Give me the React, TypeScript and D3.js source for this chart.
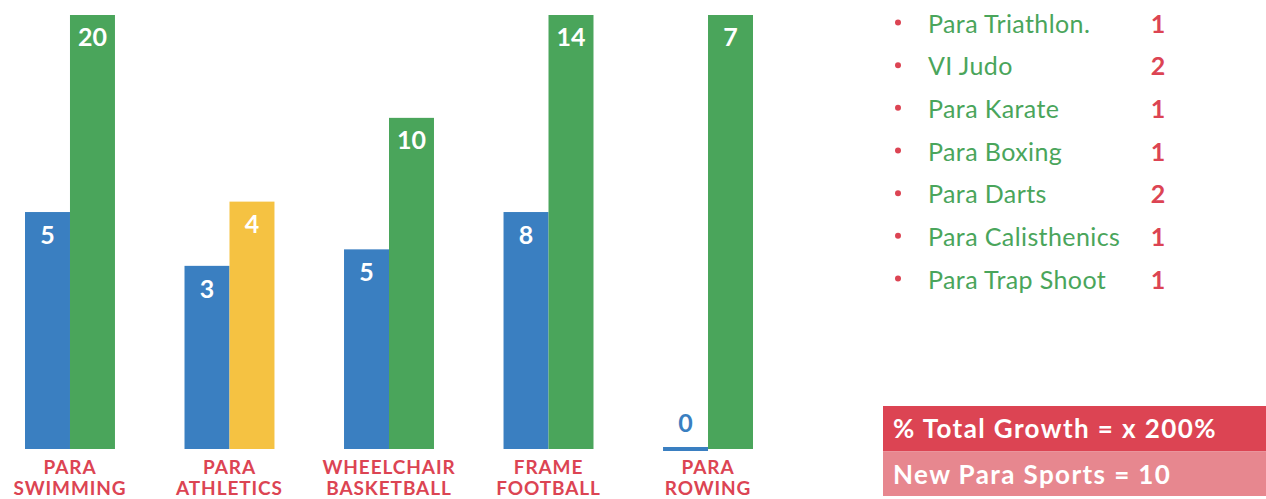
import React from "react";
import * as d3 from "d3";

// ---- data ----
const categories: string[][] = [
  ["PARA", "SWIMMING"],
  ["PARA", "ATHLETICS"],
  ["WHEELCHAIR", "BASKETBALL"],
  ["FRAME", "FOOTBALL"],
  ["PARA", "ROWING"],
];
const beforeValues = [5, 3, 5, 8, 0];
const afterValues = [20, 4, 10, 14, 7];
// bar heights as drawn on the slide (0–100 display units, not proportional to the labels)
const beforeHeights = [54.6, 42.2, 46, 54.6, 0];
const afterHeights = [100, 57, 76.3, 100, 100];

const newSports = [
  "Para Triathlon.",
  "VI Judo",
  "Para Karate",
  "Para Boxing",
  "Para Darts",
  "Para Calisthenics",
  "Para Trap Shoot",
];
const newSportCounts = [1, 2, 1, 1, 2, 1, 1];
const summaryLines = ["% Total Growth = x 200%", "New Para Sports = 10"];

// ---- styles ----
const W = 1266;
const H = 499;
const BLUE = "#3a7fc1";
const GREEN = "#4aa55b";
const YELLOW = "#f5c242";
const RED = "#dc4453";
const PINK = "#e7878f";
const FONT = "Lato, 'Open Sans', sans-serif";

export default function App() {
  const x = d3
    .scaleBand<number>()
    .domain(d3.range(categories.length))
    .range([25, 753])
    .paddingInner(0.436)
    .paddingOuter(0);
  const bw = x.bandwidth() / 2;
  const y = d3.scaleLinear().domain([0, 100]).range([449, 15]);

  const listY = d3
    .scaleLinear()
    .domain([0, newSports.length - 1])
    .range([32.5, 288.5]);

  return (
    <svg
      width={W}
      height={H}
      style={{ position: "absolute", left: 0, top: 0, display: "block" }}
      fontFamily={FONT}
    >
      <rect width={W} height={H} fill="#fff" />
      {categories.map((cat, i) => {
        const x0 = x(i)!;
        const cx = x0 + bw;
        const bTop = y(beforeHeights[i]);
        const aTop = y(afterHeights[i]);
        const zeroBefore = beforeValues[i] === 0;
        const afterColor = i === 1 ? YELLOW : GREEN;
        return (
          <g key={i}>
            {zeroBefore ? (
              <rect x={x0} y={y(0) - 2} width={bw} height={4} fill={BLUE} />
            ) : (
              <rect x={x0} y={bTop} width={bw} height={y(0) - bTop} fill={BLUE} />
            )}
            <rect x={x0 + bw} y={aTop} width={bw} height={y(0) - aTop} fill={afterColor} />
            <text
              x={x0 + bw / 2}
              y={zeroBefore ? y(0) - 17 : bTop + 32}
              textAnchor="middle"
              fontWeight={700}
              fontSize={25}
              fill={zeroBefore ? BLUE : "#fff"}
            >
              {beforeValues[i]}
            </text>
            <text
              x={x0 + bw * 1.5}
              y={aTop + 31}
              textAnchor="middle"
              fontWeight={700}
              fontSize={25}
              fill="#fff"
            >
              {afterValues[i]}
            </text>
            {cat.map((line, k) => (
              <text
                key={k}
                x={cx}
                y={474 + k * 21}
                textAnchor="middle"
                fontWeight={700}
                fontSize={19}
                letterSpacing={0.9}
                fill={RED}
              >
                {line}
              </text>
            ))}
          </g>
        );
      })}

      {newSports.map((s, i) => (
        <g key={s}>
          <circle cx={898} cy={listY(i) - 10} r={3} fill={RED} />
          <text x={928} y={listY(i)} fontSize={25} letterSpacing={0.4} fill={GREEN}>
            {s}
          </text>
          <text x={1158} y={listY(i)} fontSize={25} fontWeight={700} fill={RED} textAnchor="middle">
            {newSportCounts[i]}
          </text>
        </g>
      ))}

      <rect x={883} y={406} width={W - 883} height={45.5} fill={RED} />
      <rect x={883} y={451.5} width={W - 883} height={44.5} fill={PINK} />
      {summaryLines.map((t, i) => (
        <text
          key={t}
          x={893}
          y={438 + i * 46}
          fontSize={26}
          fontWeight={700}
          letterSpacing={1.4}
          fill="#fff"
        >
          {t}
        </text>
      ))}
    </svg>
  );
}
